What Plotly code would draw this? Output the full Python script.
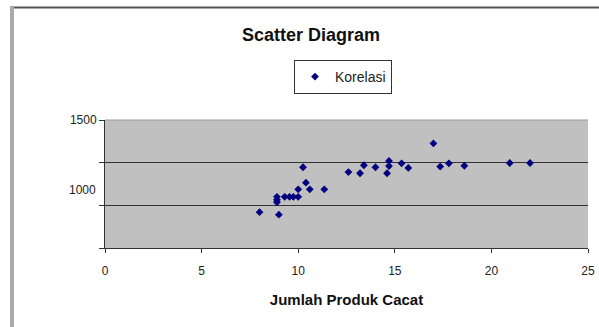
import plotly.graph_objects as go

# Defect counts (x) and paired measurements (y)
jumlah_produk_cacat = [8.0, 9.0, 8.9, 8.9, 8.9, 9.3, 9.55, 9.75, 10.0, 10.0, 10.25,
                       10.4, 10.6, 11.35, 12.6, 13.2, 13.4, 14.0, 14.6, 14.7, 14.7,
                       15.35, 15.7, 17.0, 17.35, 17.8, 18.6, 20.95, 22.0]
nilai = [960, 945, 1050, 1032, 1018, 1050, 1050, 1050, 1050, 1094, 1223,
         1133, 1094, 1094, 1195, 1188, 1235, 1223, 1188, 1260, 1230,
         1246, 1219, 1363, 1227, 1246, 1232, 1248, 1248]

series_name = "Korelasi"
chart_title = "Scatter Diagram"
x_title = "Jumlah Produk Cacat"
x_ticks = [0, 5, 10, 15, 20, 25]
y_ticks = [750, 1000, 1250, 1500]
y_ticktext = ["", "", "", "1500"]

W, H = 599, 327
L, R, T, B = 105, 11, 120, 79
pw, ph = W - L - R, H - T - B


def px_x(x):
    return (x - L) / pw


def px_y(y):
    return (H - B - y) / ph


fig = go.Figure()
fig.add_trace(go.Scatter(
    x=jumlah_produk_cacat, y=nilai, mode="markers", name=series_name,
    marker=dict(symbol="diamond", size=6, color="#000080"),
))

font = "Liberation Sans, Arial, sans-serif"
fig.update_layout(
    width=W, height=H,
    margin=dict(l=L, r=R, t=T, b=B, autoexpand=False),
    paper_bgcolor="white", plot_bgcolor="#C0C0C0",
    font=dict(family=font, size=12, color="#222"),
    title=dict(text="<b>" + chart_title + "</b>", x=px_x(311), xref="paper",
               xanchor="center", y=1 - 35 / H, yref="container", yanchor="middle",
               font=dict(size=18, color="#111")),
    showlegend=True,
    legend=dict(x=px_x(343), xanchor="center", y=px_y(60), yanchor="top",
                bgcolor="white", bordercolor="#333", borderwidth=1,
                font=dict(size=14, color="#222"), itemwidth=30,
                tracegroupgap=0),
    xaxis=dict(range=[0, 25], tickvals=x_ticks, showgrid=False, zeroline=False,
               showline=True, linecolor="#333", linewidth=1, ticks="outside",
               ticklen=4, tickcolor="#333", mirror=False, ticklabelstandoff=8,
               tickfont=dict(size=12), automargin=False,
               title=dict(text="<b>" + x_title + "</b>", standoff=17,
                          font=dict(size=15, color="#111"))),
    yaxis=dict(range=[750, 1500], tickvals=y_ticks, ticktext=y_ticktext,
               showgrid=True, gridcolor="#333", gridwidth=1, zeroline=False,
               showline=True, linecolor="#333", linewidth=1, ticks="outside",
               ticklen=5, tickcolor="#333", tickfont=dict(size=12),
               automargin=False),
)

# second value label on the vertical axis
fig.add_annotation(x=0, xref="paper", xanchor="right", xshift=-7,
                   y=1090, yref="y", yanchor="middle", text="1000",
                   showarrow=False, font=dict(size=12, color="#222"))

# chart-area frame: dark top edge and light left edge
fig.add_shape(type="line", xref="paper", yref="paper",
              x0=px_x(10), x1=px_x(599), y0=px_y(7.5), y1=px_y(7.5),
              line=dict(color="#555", width=2))
fig.add_shape(type="line", xref="paper", yref="paper",
              x0=px_x(12), x1=px_x(12), y0=px_y(7), y1=px_y(327),
              line=dict(color="#aaa", width=4))
# light top edge of the plot area
fig.add_shape(type="line", xref="paper", yref="paper",
              x0=0, x1=1, y0=1, y1=1, line=dict(color="#999", width=1))

fig.write_html("out.html")
